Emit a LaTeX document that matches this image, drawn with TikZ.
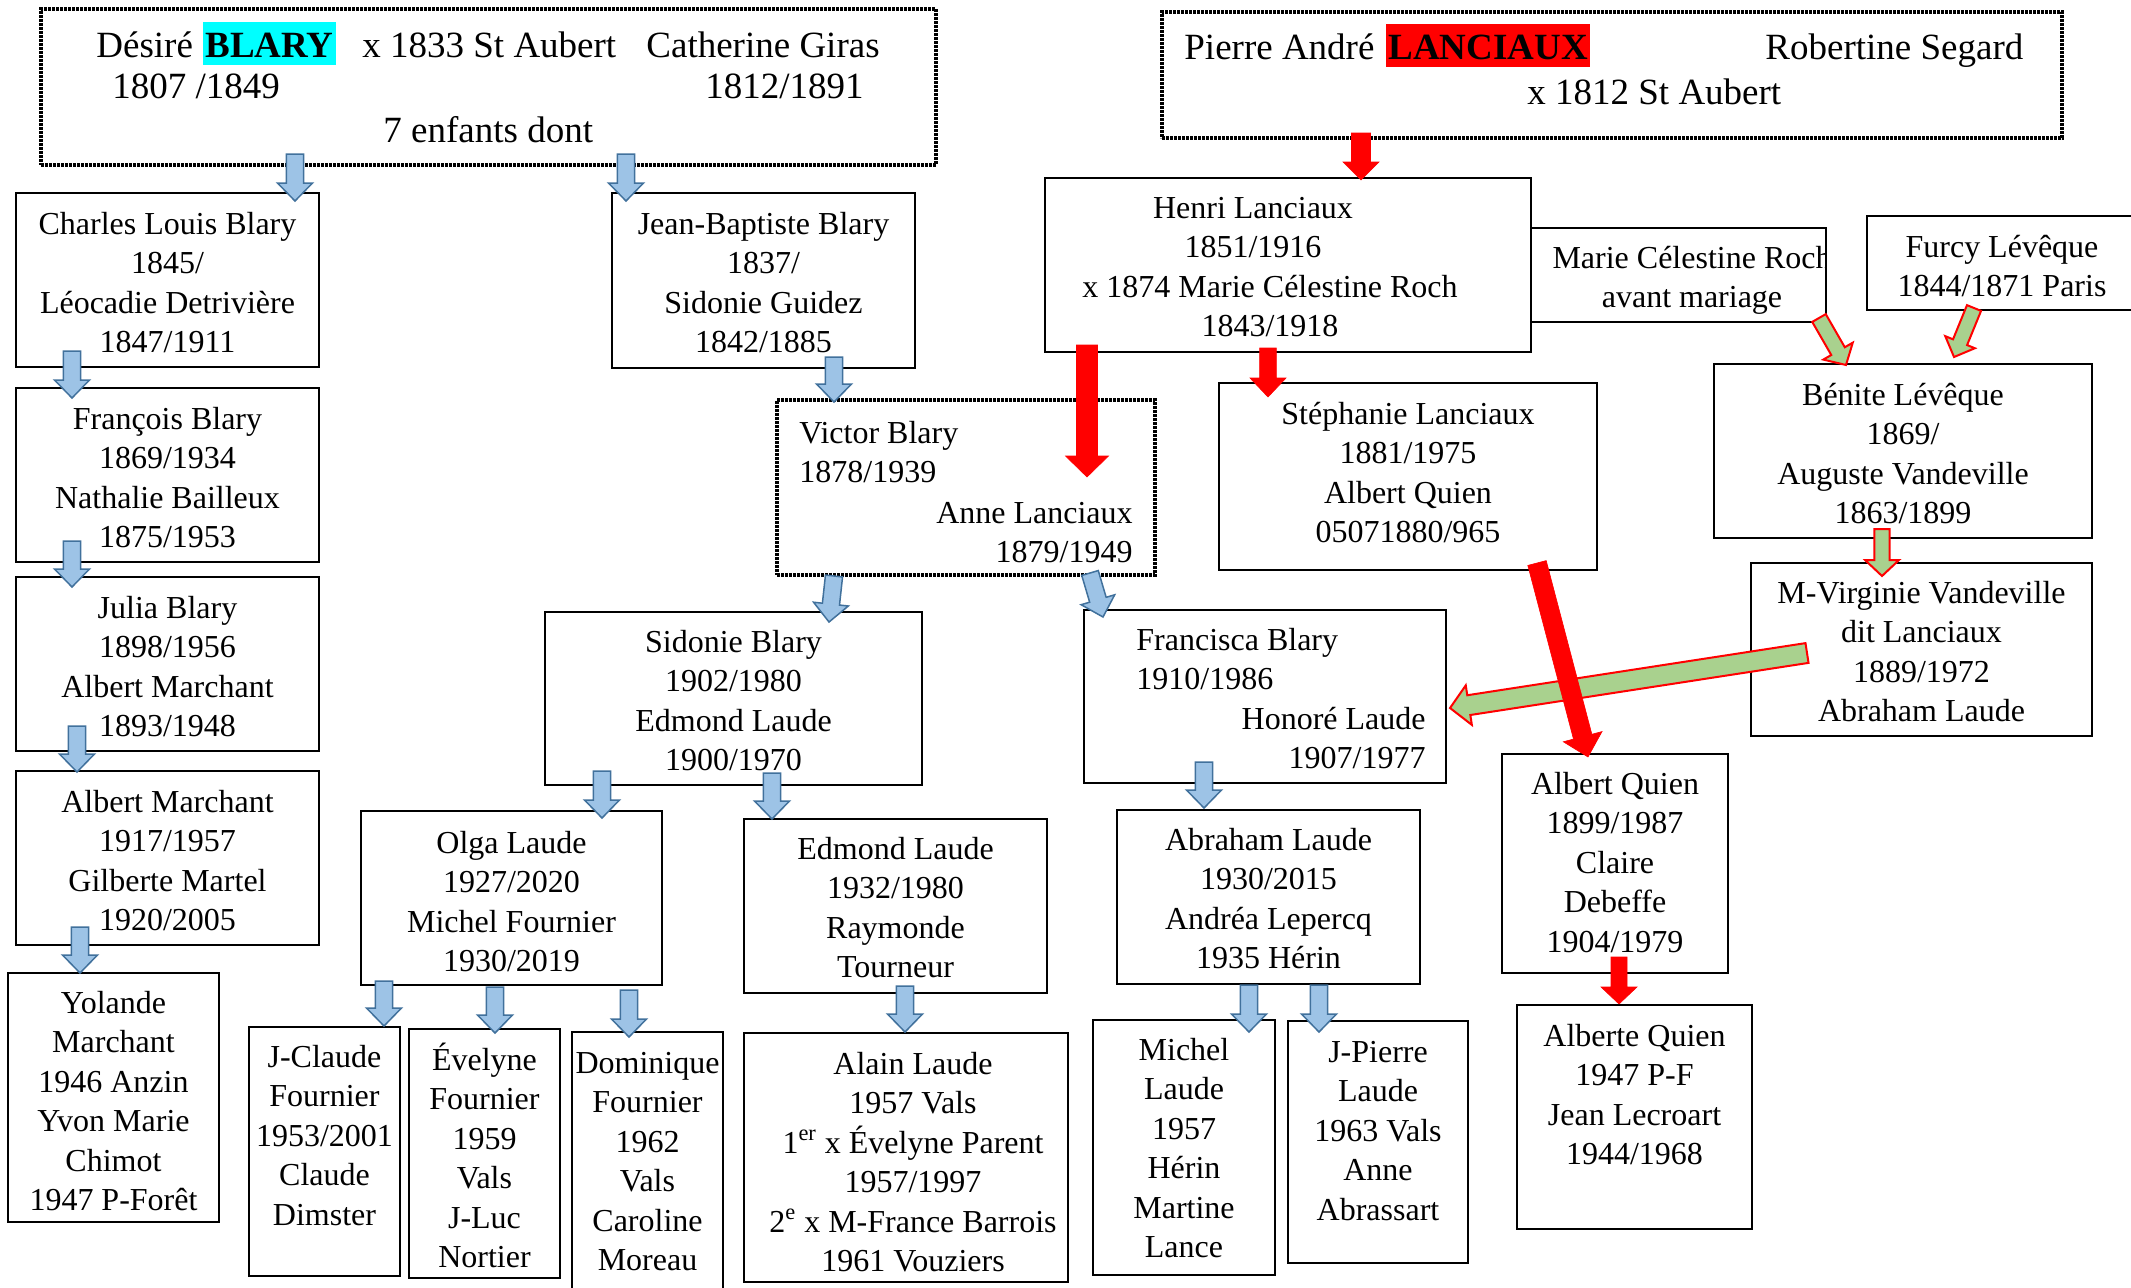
\documentclass[tikz,border=0pt]{standalone}
\usepackage{fontspec}
\setmainfont{Liberation Serif}
\usetikzlibrary{calc,fit}
\definecolor{bfill}{HTML}{9DC3E6}
\definecolor{bline}{HTML}{41719C}
\definecolor{gfill}{HTML}{A9D18E}
\definecolor{hcyan}{HTML}{00FFFF}
\definecolor{hred}{HTML}{FF0000}
\newcommand\fst{\rule{0pt}{14.5pt}}
% #1 style, #2 start, #3 tip, #4 half shaft (pt), #5 half head (pt), #6 head length (pt)
\newcommand\blockarrow[6]{%
  \path let \p1=(#2), \p2=(#3) in \pgfextra{%
    \pgfmathsetmacro\bkangl{atan2(\y2-\y1,\x2-\x1)}%
    \pgfmathsetmacro\bklenl{veclen(\x2-\x1,\y2-\y1)}%
    \xdef\bkang{\bkangl}\xdef\bklen{\bklenl}};
  \pgfmathsetmacro\bkb{\bklen-#6}%
  \draw[#1, shift={(#2)}, rotate=\bkang] (0pt,#4pt) -- (\bkb pt,#4pt) -- (\bkb pt,#5pt) -- (\bklen pt,0pt) -- (\bkb pt,-#5pt) -- (\bkb pt,-#4pt) -- (0pt,-#4pt) -- cycle;
}
\tikzset{
  bx/.style={draw=black, line width=0.7pt, inner sep=0pt},
  dbx/.style={draw=black, line width=1.6pt, dash pattern=on 1.3pt off 0.7pt, inner sep=0pt},
  tx/.style={inner sep=0pt, align=center, anchor=north, font=\fontsize{16}{19.75}\selectfont},
  txl/.style={tx, align=left, anchor=north west},
  txr/.style={tx, align=right, anchor=north east},
  big/.style={inner sep=0pt, anchor=base west, font=\fontsize{18.5}{21}\selectfont},
  hilite/.style={inner sep=0pt, anchor=base west, fill=#1, inner xsep=1pt, text height=17.5pt, text depth=4pt, font=\fontsize{18.5}{21}\selectfont\bfseries},
  bluearr/.style={fill=bfill, draw=bline, line width=0.75pt},
  redarr/.style={fill=hred, draw=hred, line width=0.3pt},
  greenarr/.style={fill=gfill, draw=hred, line width=1pt},
}
\begin{document}
\begin{tikzpicture}[x=0.5pt, y=-0.5pt]
\useasboundingbox (0,0) rectangle (2131,1287);
\fill[white] (0,0) rectangle (2131,1287);

% ---------- top boxes ----------
\node[dbx, fit={(41,9) (936,165)}] (topL) {};
\node[big] (tl1) at (96,57) {Désiré};
\node[hilite=hcyan] (tl2) at (203,57) {BLARY};
\node[big] (tl3) at (362,57) {x 1833 St Aubert};
\node[big] (tl4) at (646,57) {Catherine Giras};
\node[big] (tl5) at (112,98) {1807 /1849};
\node[big] (tl6) at (705,98) {1812/1891};
\node[big] (tl7) at (383,142) {7 enfants dont};

\node[dbx, fit={(1162,12) (2062,138)}] (topR) {};
\node[big] (tr1) at (1184,59) {Pierre André};
\node[hilite=hred] (tr2) at (1386,59) {LANCIAUX};
\node[big] (tr3) at (1765,59) {Robertine Segard};
\node[big] (tr4) at (1527,104) {x 1812 St Aubert};

% ---------- left column ----------
\node[bx, fit={(16,193) (319,367)}] (charles) {};
\node[tx] (charlesT) at (167.5,205) {\fst Charles Louis Blary\\1845/\\Léocadie Detrivière\\1847/1911};
\node[bx, fit={(16,388) (319,562)}] (francois) {};
\node[tx] (francoisT) at (167.5,400) {\fst François Blary\\1869/1934\\Nathalie Bailleux\\1875/1953};
\node[bx, fit={(16,577) (319,751)}] (julia) {};
\node[tx] (juliaT) at (167.5,589) {\fst Julia Blary\\1898/1956\\Albert Marchant\\1893/1948};
\node[bx, fit={(16,771) (319,945)}] (albertm) {};
\node[tx] (albertmT) at (167.5,783) {\fst Albert Marchant\\1917/1957\\Gilberte Martel\\1920/2005};
\node[bx, fit={(8,973) (219,1222)}] (yolande) {};
\node[tx] (yolandeT) at (113.5,984) {\fst Yolande\\Marchant\\1946 Anzin\\Yvon Marie\\Chimot\\1947 P-Forêt};

% ---------- middle ----------
\node[bx, fit={(612,193) (915,368)}] (jb) {};
\node[tx] (jbT) at (763.5,205) {\fst Jean-Baptiste Blary\\1837/\\Sidonie Guidez\\1842/1885};
\node[dbx, fit={(777,400) (1155,575)}] (victor) {};
\node[txl] (victorL) at (799,414) {\fst Victor Blary\\1878/1939};
\node[txr] (victorR) at (1133,494) {\fst Anne Lanciaux\\1879/1949};
\node[bx, fit={(545,612) (922,785)}] (sidonie) {};
\node[tx] (sidonieT) at (733.5,623) {\fst Sidonie Blary\\1902/1980\\Edmond Laude\\1900/1970};
\node[bx, fit={(1084,610) (1446,783)}] (francisca) {};
\node[txl] (franciscaL) at (1136,621) {\fst Francisca Blary\\1910/1986};
\node[txr] (franciscaR) at (1426,700) {\fst Honoré Laude\\1907/1977};
\node[bx, fit={(361,811) (662,985)}] (olga) {};
\node[tx] (olgaT) at (511.5,824) {\fst Olga Laude\\1927/2020\\Michel Fournier\\1930/2019};
\node[bx, fit={(744,819) (1047,993)}] (edmond) {};
\node[tx] (edmondT) at (895.5,830) {\fst Edmond Laude\\1932/1980\\Raymonde\\Tourneur};
\node[bx, fit={(1117,810) (1420,984)}] (abraham) {};
\node[tx] (abrahamT) at (1268.5,821) {\fst Abraham Laude\\1930/2015\\Andréa Lepercq\\1935 Hérin};

% ---------- bottom row ----------
\node[bx, fit={(249,1027) (400,1276)}] (jclaude) {};
\node[tx] (jclaudeT) at (324.5,1038) {\fst J-Claude\\Fournier\\1953/2001\\Claude\\Dimster};
\node[bx, fit={(409,1029) (560,1278)}] (evelyne) {};
\node[tx] (evelyneT) at (484.5,1041) {\fst Évelyne\\Fournier\\1959\\Vals\\J-Luc\\Nortier};
\node[bx, fit={(572,1032) (723,1295)}] (dominique) {};
\node[tx] (dominiqueT) at (647.5,1044) {\fst Dominique\\Fournier\\1962\\Vals\\Caroline\\Moreau};
\node[bx, fit={(744,1033) (1068,1282)}] (alain) {};
\node[tx] (alainT) at (913,1045) {\fst Alain Laude\\1957 Vals\\1\textsuperscript{er} x Évelyne Parent\\1957/1997\\2\textsuperscript{e} x M-France Barrois\\1961 Vouziers};
\node[bx, fit={(1093,1020) (1275,1275)}] (michel) {};
\node[tx] (michelT) at (1184,1031) {\fst Michel\\Laude\\1957\\Hérin\\Martine\\Lance};
\node[bx, fit={(1288,1021) (1468,1263)}] (jpierre) {};
\node[tx] (jpierreT) at (1378,1033) {\fst J-Pierre\\Laude\\1963 Vals\\Anne\\Abrassart};

% ---------- right side ----------
\node[bx, fit={(1045,178) (1531,352)}] (henri) {};
\node[tx] (henriT1) at (1253,189) {\fst Henri Lanciaux\\1851/1916};
\node[tx] (henriT2) at (1270,268) {\fst x 1874 Marie Célestine Roch\\1843/1918};
\node[bx, fit={(1531,228) (1826,322)}] (marie) {};
\begin{scope}
\clip (1532,229) rectangle (1825,321);
\node[tx] (marieT) at (1692,239) {\fst Marie Célestine Roch\\avant mariage};
\end{scope}
\node[bx, fit={(1867,216) (2137,310)}] (furcy) {};
\node[tx] (furcyT) at (2002,228) {\fst Furcy Lévêque\\1844/1871 Paris};
\node[bx, fit={(1219,383) (1597,570)}] (stephanie) {};
\node[tx] (stephanieT) at (1408,395) {\fst Stéphanie Lanciaux\\1881/1975\\Albert Quien\\05071880/965};
\node[bx, fit={(1714,364) (2092,538)}] (benite) {};
\node[tx] (beniteT) at (1903,376) {\fst Bénite Lévêque\\1869/\\Auguste Vandeville\\1863/1899};
\node[bx, fit={(1751,563) (2092,736)}] (mvirg) {};
\node[tx] (mvirgT) at (1921.5,574) {\fst M-Virginie Vandeville\\dit Lanciaux\\1889/1972\\Abraham Laude};
\node[bx, fit={(1502,754) (1728,973)}] (aquien) {};
\node[tx] (aquienT) at (1615,765) {\fst Albert Quien\\1899/1987\\Claire\\Debeffe\\1904/1979};
\node[bx, fit={(1517,1005) (1752,1229)}] (alberte) {};
\node[tx] (alberteT) at (1634.5,1017) {\fst Alberte Quien\\1947 P-F\\Jean Lecroart\\1944/1968};

% ---------- arrow end points ----------
\coordinate (b1s) at (295,154);  \coordinate (b1e) at (295,201);
\coordinate (b2s) at (626,154);  \coordinate (b2e) at (626,201);
\coordinate (b3s) at (72,351);   \coordinate (b3e) at (72,398);
\coordinate (b4s) at (72,541);   \coordinate (b4e) at (72,587);
\coordinate (b5s) at (77,726);   \coordinate (b5e) at (77,772);
\coordinate (b6s) at (80,927);   \coordinate (b6e) at (80,973);
\coordinate (b7s) at (834,357);  \coordinate (b7e) at (834,402);
\coordinate (b8s) at (834,576);  \coordinate (b8e) at (829,622);
\coordinate (b9s) at (1090,573); \coordinate (b9e) at (1103,617);
\coordinate (b10s) at (602,771); \coordinate (b10e) at (602,818);
\coordinate (b11s) at (772,773); \coordinate (b11e) at (772,819);
\coordinate (b12s) at (1204,762); \coordinate (b12e) at (1204,808);
\coordinate (b13s) at (384,981); \coordinate (b13e) at (384,1026);
\coordinate (b14s) at (495,987); \coordinate (b14e) at (495,1033);
\coordinate (b15s) at (629,990); \coordinate (b15e) at (629,1037);
\coordinate (b16s) at (905,986); \coordinate (b16e) at (905,1032);
\coordinate (b17s) at (1249,985); \coordinate (b17e) at (1249,1032);
\coordinate (b18s) at (1319,985); \coordinate (b18e) at (1319,1032);
\coordinate (r1s) at (1361,133); \coordinate (r1e) at (1361,180);
\coordinate (r2s) at (1087,345); \coordinate (r2e) at (1087,477);
\coordinate (r3s) at (1268,348); \coordinate (r3e) at (1268,397);
\coordinate (r4s) at (1537,563); \coordinate (r4e) at (1588,757);
\coordinate (r5s) at (1619,957); \coordinate (r5e) at (1619,1004);
\coordinate (g1s) at (1819,318); \coordinate (g1e) at (1846,365);
\coordinate (g2s) at (1974,308); \coordinate (g2e) at (1954,357);
\coordinate (g3s) at (1882,529); \coordinate (g3e) at (1882,576);
\coordinate (g4s) at (1807,653); \coordinate (g4e) at (1450,708);

% ---------- blue arrows ----------
\foreach \k in {1,...,18}{\blockarrow{bluearr}{b\k s}{b\k e}{4.3}{8.75}{9}}

% ---------- green arrows ----------
\blockarrow{greenarr}{g1s}{g1e}{3.9}{8.5}{8}
\blockarrow{greenarr}{g2s}{g2e}{3.8}{8}{8}
\blockarrow{greenarr}{g3s}{g3e}{3.8}{8.5}{8}
\blockarrow{greenarr}{g4s}{g4e}{5}{10}{9.5}

% ---------- red arrows ----------
\blockarrow{redarr}{r1s}{r1e}{4.75}{9}{9}
\blockarrow{redarr}{r2s}{r2e}{5.25}{10.75}{10.5}
\blockarrow{redarr}{r3s}{r3e}{4.2}{9}{9.5}
\blockarrow{redarr}{r4s}{r4e}{4.75}{10}{10.5}
\blockarrow{redarr}{r5s}{r5e}{4}{9}{8.5}
\end{tikzpicture}
\end{document}
